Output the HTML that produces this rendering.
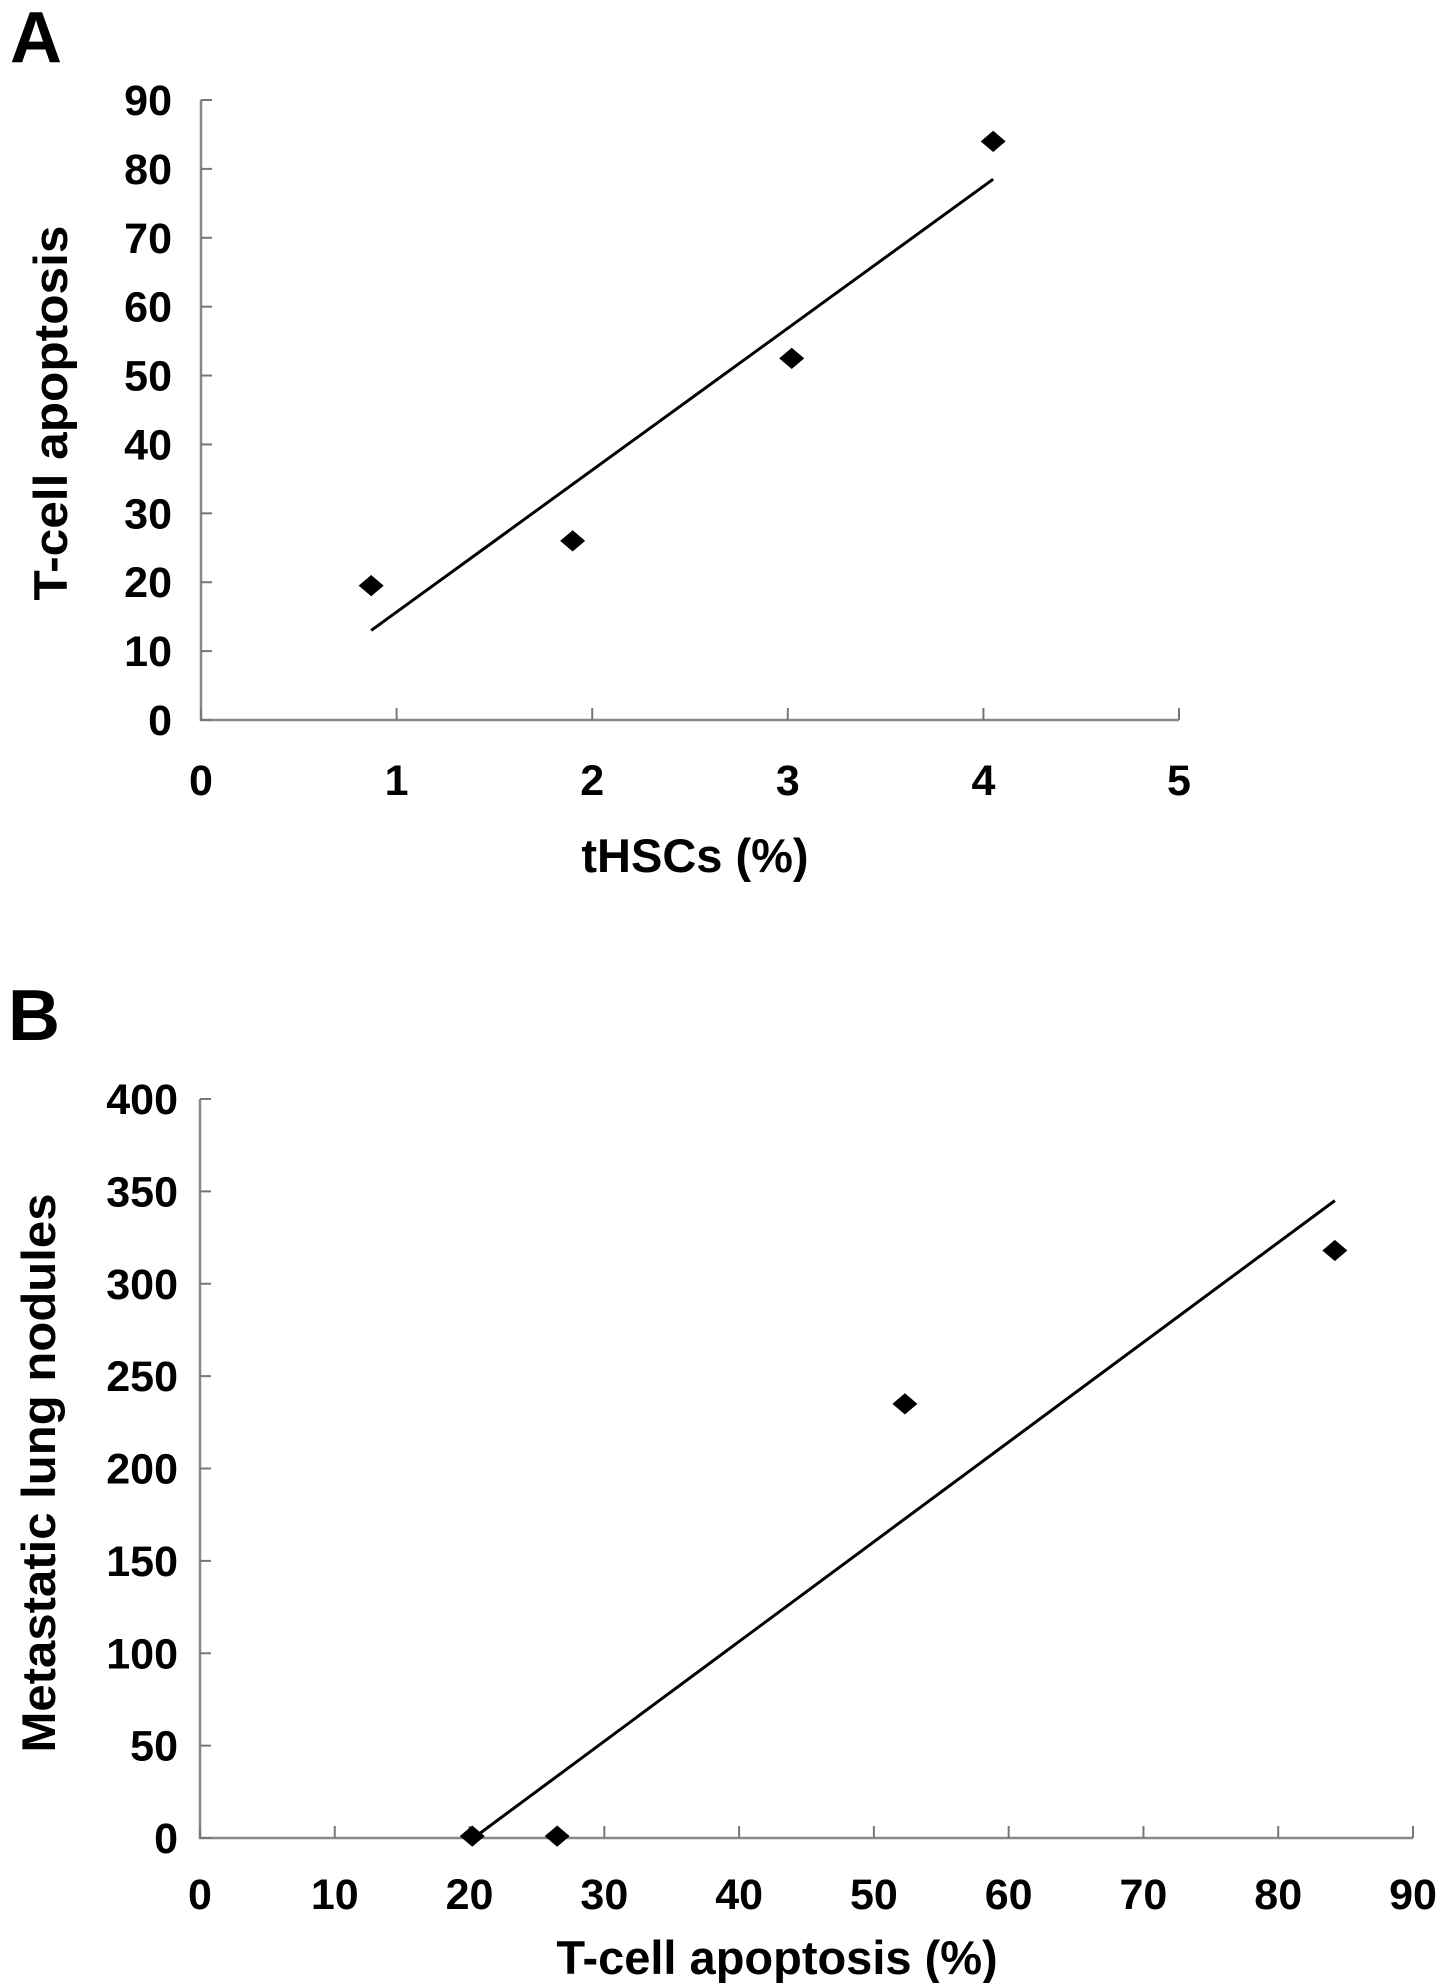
<!DOCTYPE html>
<html><head><meta charset="utf-8"><style>
html,body{margin:0;padding:0;background:#fff;}
svg{display:block;font-family:"Liberation Sans",Arial,sans-serif;}
</style></head><body>
<svg id="fig" width="1441" height="1983" viewBox="0 0 1441 1983">
<text x="10" y="62" font-size="72" font-weight="bold">A</text>
<text x="8" y="1040" font-size="72" font-weight="bold">B</text>
<g id="chartA"></g>
<g id="chartB"></g>
</svg>
<script>
const NS="http://www.w3.org/2000/svg";
// Chart A data
const aX=[0.87,1.9,3.02,4.05];
const aY=[19.5,26,52.5,84];
const aXTicks=[0,1,2,3,4,5];
const aYTicks=[0,10,20,30,40,50,60,70,80,90];
const aTrend=[[0.87,13],[4.05,78.5]];
// Chart B data
const bX=[20.2,26.5,52.3,84.2];
const bY=[1,1,235,318];
const bXTicks=[0,10,20,30,40,50,60,70,80,90];
const bYTicks=[0,50,100,150,200,250,300,350,400];
const bTrend=[[20.3,0],[84.2,345]];

function mk(p,tag,attrs,txt){const e=document.createElementNS(NS,tag);for(const k in attrs)e.setAttribute(k,attrs[k]);if(txt!==undefined)e.textContent=txt;p.appendChild(e);return e;}

function chart(g,cfg){
  const sx=v=>cfg.x0+(v-cfg.xmin)/(cfg.xmax-cfg.xmin)*(cfg.x1-cfg.x0);
  const sy=v=>cfg.y0-(v-cfg.ymin)/(cfg.ymax-cfg.ymin)*(cfg.y0-cfg.y1);
  const ax=mk(g,'path',{d:`M${cfg.x0},${cfg.y1}V${cfg.y0}H${cfg.x1}`,fill:'none',stroke:'#888',"stroke-width":2.5});
  
  
  cfg.yt.forEach(v=>{
    const t=mk(g,'line',{x1:cfg.x0,x2:cfg.x0+11,y1:sy(v),y2:sy(v),stroke:'#777',"stroke-width":2});
    
    
    const l=mk(g,'text',{x:cfg.ylx,y:sy(v)+15,"text-anchor":"end","font-size":43,"font-weight":"bold"},String(v));
    
    
  });
  cfg.xt.forEach(v=>{
    const t=mk(g,'line',{x1:sx(v),x2:sx(v),y1:cfg.y0,y2:cfg.y0-12,stroke:'#777',"stroke-width":2});
    
    
    const l=mk(g,'text',{x:sx(v),y:cfg.xly,"text-anchor":"middle","font-size":43,"font-weight":"bold"},String(v));
    
    
  });
  const tr=mk(g,'line',{x1:sx(cfg.tr[0][0]),y1:sy(cfg.tr[0][1]),x2:sx(cfg.tr[1][0]),y2:sy(cfg.tr[1][1]),stroke:'#000',"stroke-width":3});
  
  
  cfg.xs.forEach((v,i)=>{
    const cx=sx(v),cy=sy(cfg.ys[i]),r=12.5;
    const d=mk(g,'polygon',{points:`${cx},${cy-r*0.85} ${cx+r},${cy} ${cx},${cy+r*0.85} ${cx-r},${cy}`,fill:'#000'});
    
    
  });
  const xt=mk(g,'text',{x:cfg.xtx,y:cfg.xty,"text-anchor":"middle","font-size":47,"font-weight":"bold"},cfg.xtitle);
  
  
  const yt=mk(g,'text',{x:0,y:0,"text-anchor":"middle","font-size":47,"font-weight":"bold",textLength:cfg.ytl,lengthAdjust:"spacingAndGlyphs",transform:`translate(${cfg.ytx},${cfg.yty}) rotate(-90)`},cfg.ytitle);
  
  
}
chart(document.getElementById('chartA'),{x0:201,x1:1179,y0:720,y1:100,xmin:0,xmax:5,ymin:0,ymax:90,
  xs:aX,ys:aY,xt:aXTicks,yt:aYTicks,tr:aTrend,ylx:172,xly:795,
  xtitle:'tHSCs (%)',xtx:695,xty:872,ytitle:'T-cell apoptosis',ytx:67,yty:413,ytl:375});
chart(document.getElementById('chartB'),{x0:200,x1:1413,y0:1838,y1:1099,xmin:0,xmax:90,ymin:0,ymax:400,
  xs:bX,ys:bY,xt:bXTicks,yt:bYTicks,tr:bTrend,ylx:178,xly:1909,
  xtitle:'T-cell apoptosis (%)',xtx:777,xty:1974,ytitle:'Metastatic lung nodules',ytx:55,yty:1473,ytl:559});
</script>
</body></html>
